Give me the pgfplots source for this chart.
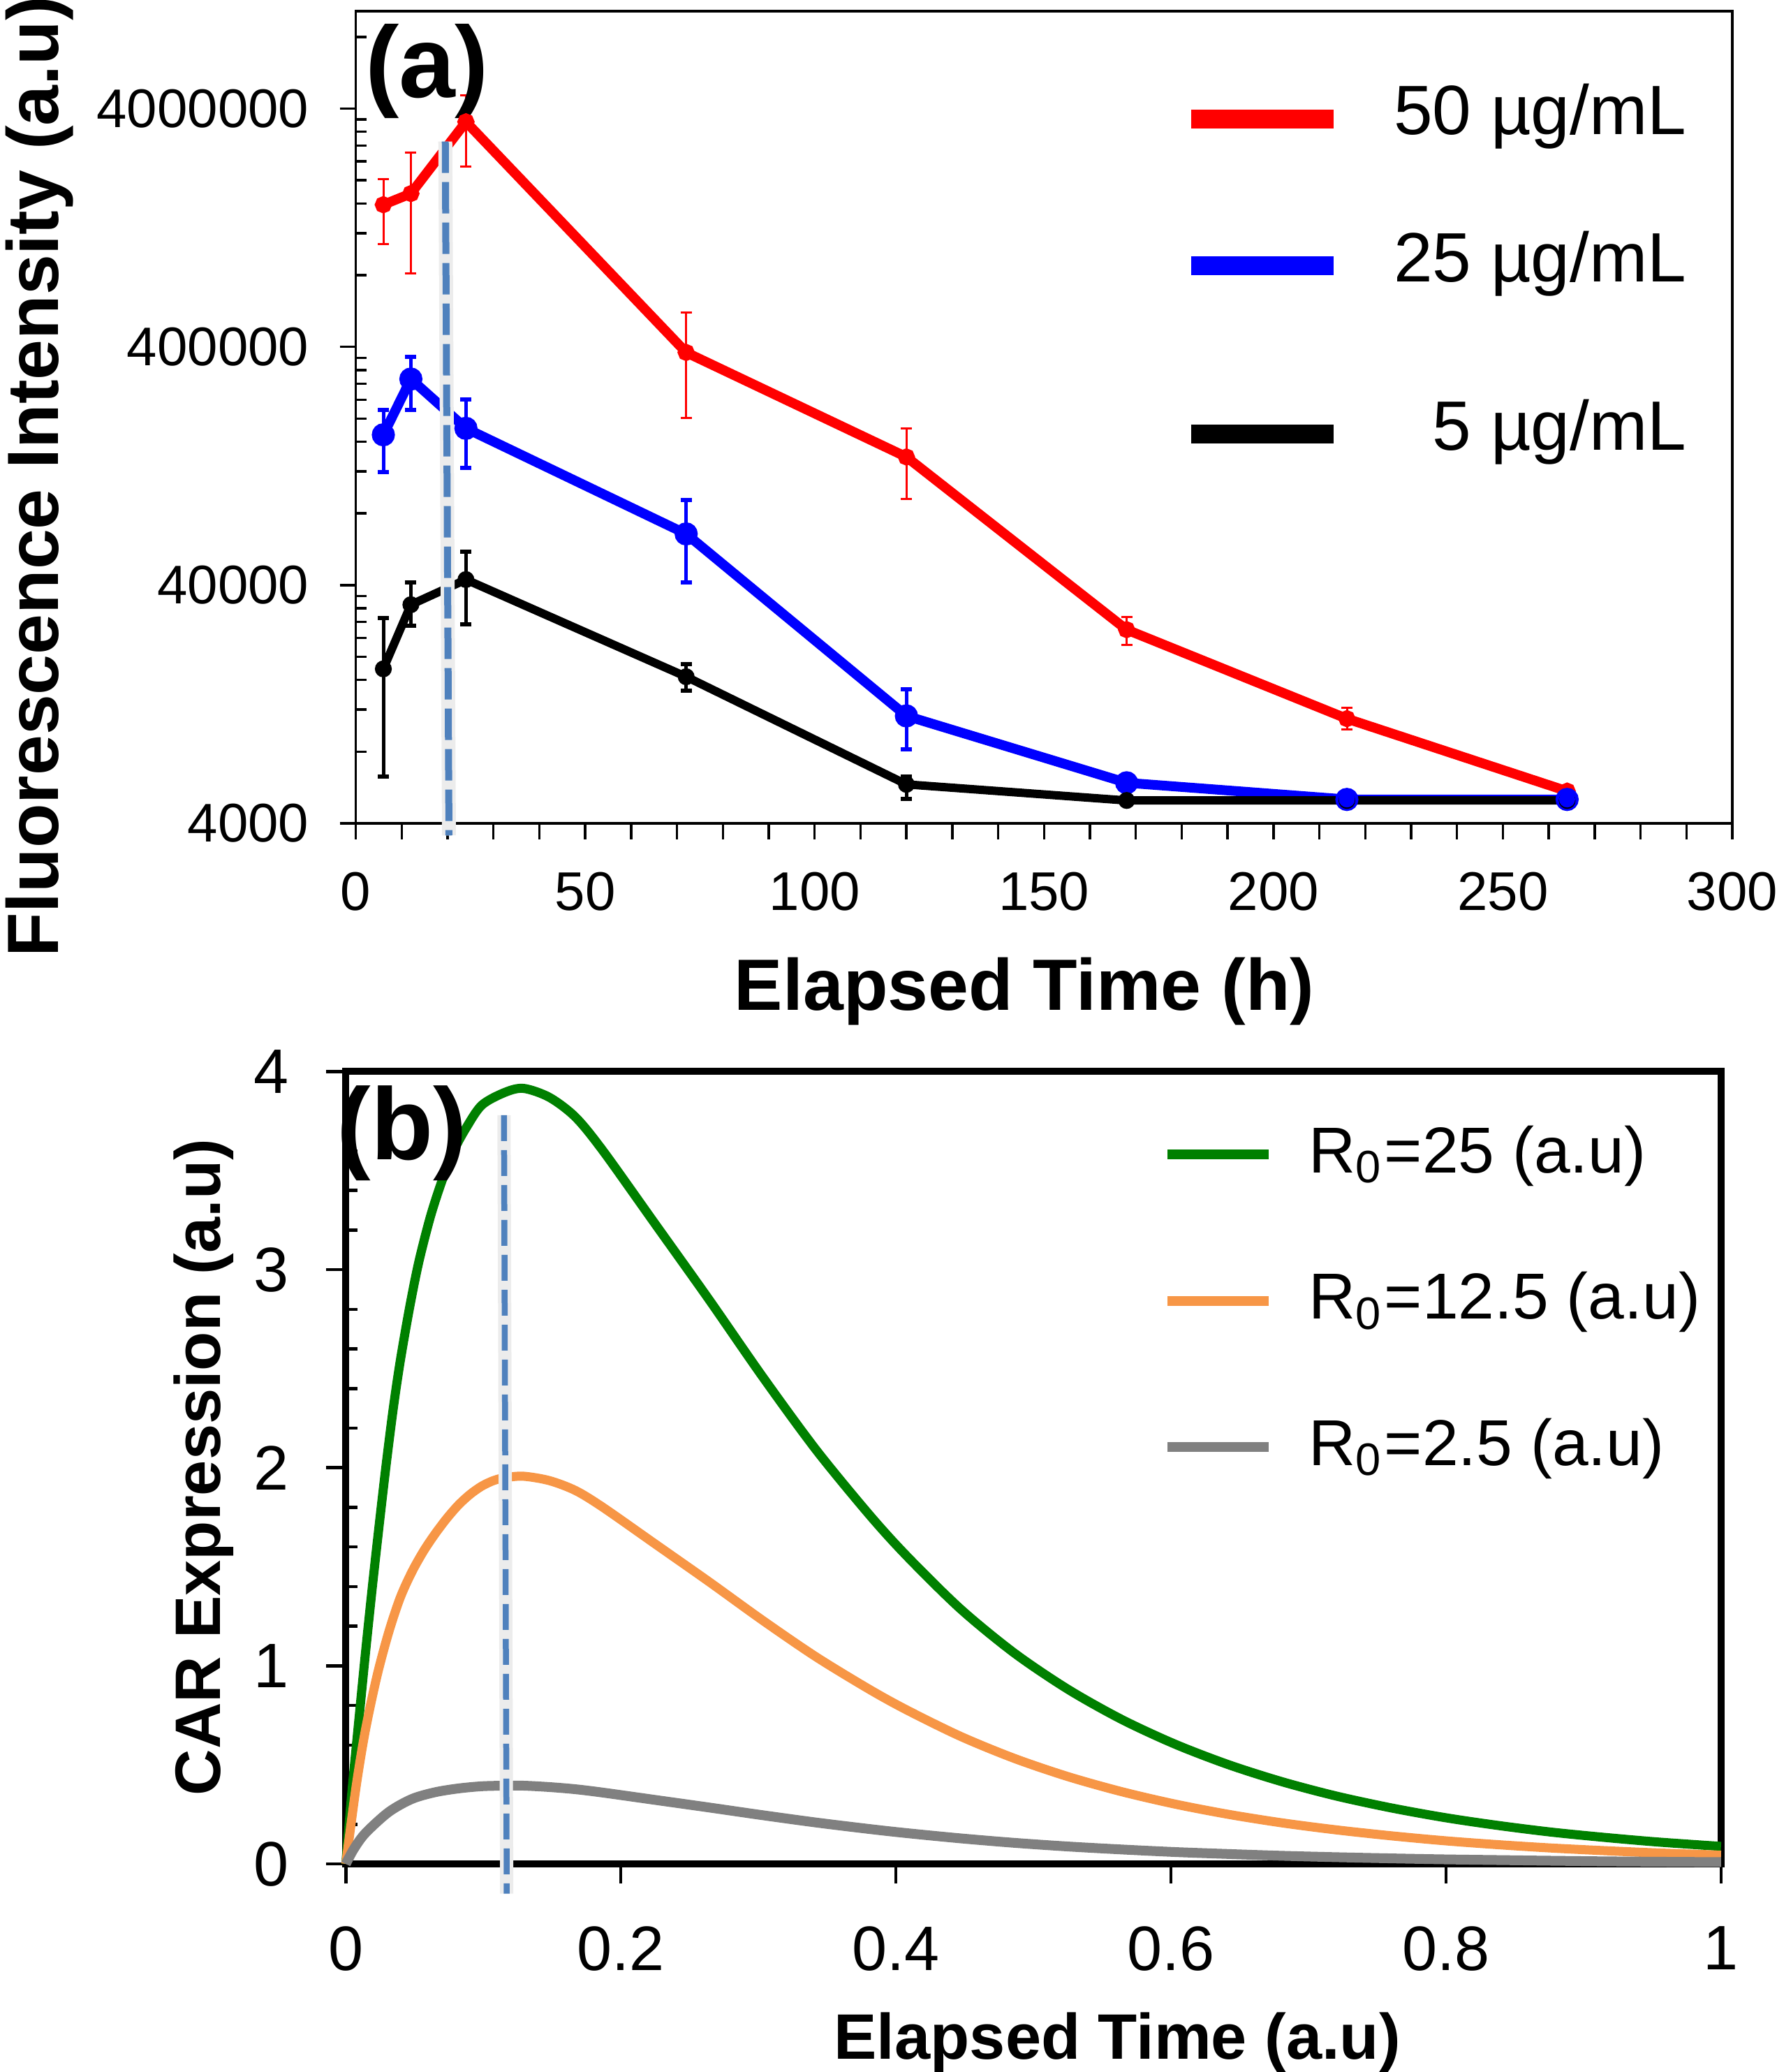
\documentclass[border=0pt]{standalone}
\usepackage{fontspec}
\setmainfont{Liberation Sans}
\usepackage{graphicx}
\usepackage{pgfplots}
\pgfplotsset{compat=1.18}
\definecolor{dashblue}{RGB}{79,129,189}
\definecolor{cgreen}{RGB}{0,128,0}
\definecolor{corange}{RGB}{247,150,70}
\definecolor{cgray}{RGB}{128,128,128}
\begin{document}
\begin{tikzpicture}
\useasboundingbox (0,0) rectangle (254.4pt,-296.7pt);
% ---------------- panel (a)
\begin{axis}[
  at={(50.96pt,-117.9pt)}, anchor=south west,
  scale only axis, width=197.14pt, height=116.3pt,
  xmin=0, xmax=300, ymode=log, ymin=4000, ymax=1.026e7,
  clip=false,
  axis line style={line width=0.35pt},
  tick pos=left, tick align=outside,
  major tick length=2.3pt, minor tick length=1.5pt,
  every tick/.style={black, line width=0.35pt},
  minor tick style={xshift=1.5pt},
  xtick={0,10,...,300},
  xticklabels={0,,,,,50,,,,,100,,,,,150,,,,,200,,,,,250,,,,,300},
  ytick={4000,40000,400000,4000000},
  yticklabels={4000,40000,400000,4000000},
  minor ytick={8000,12000,16000,20000,24000,28000,32000,36000,80000,120000,160000,200000,240000,280000,320000,360000,800000,1200000,1600000,2000000,2400000,2800000,3200000,3600000,8000000},
  tick label style={font=\fontsize{7.8}{9}\selectfont},
  xticklabel style={yshift=-1.2pt},
  yticklabel style={xshift=-0.9pt},
  xlabel={Elapsed Time (h)},
  ylabel={Fluorescence Intensity (a.u)},
  label style={font=\bfseries\fontsize{10.4}{12}\selectfont},
  xlabel style={at={(axis description cs:0.4857,-0.2296)}, anchor=base},
  ylabel style={at={(axis description cs:-0.2159,0.4265)}, anchor=base},
  legend cell align=right,
  legend style={draw=none, fill=none, at={(axis description cs:0.9676,0.9119)}, anchor=north east,
    inner sep=0pt, row sep=12.3pt, column sep=7.3pt, nodes={inner sep=0pt},
    font=\fontsize{10}{12}\selectfont},
]
\addlegendimage{legend image code/.code={\draw[red, line width=2.7pt] (0pt,-0.6pt) -- (20.4pt,-0.6pt);}}
\addlegendentry{50 µg/mL}
\addlegendimage{legend image code/.code={\draw[blue, line width=2.7pt] (0pt,-0.6pt) -- (20.4pt,-0.6pt); \path (0pt,-7.2pt);}}
\addlegendentry{25 µg/mL}
\addlegendimage{legend image code/.code={\draw[black, line width=2.7pt] (0pt,-0.6pt) -- (20.4pt,-0.6pt);}}
\addlegendentry{5 µg/mL}
% 50 ug/mL
\addplot[forget plot, red, line width=1.4pt, mark=*, mark size=0.5pt,
  error bars/.cd, y dir=both, y explicit,
  error bar style={line width=0.3pt, red},
  error mark options={rotate=90, mark size=0.8pt, line width=0.3pt, red}]
coordinates {
 (6,1.58e6) += (0,0.45e6) -= (0,0.50e6)
 (12,1.76e6) += (0,0.85e6) -= (0,0.947e6)
 (24,3.52e6) += (0,1.03e6) -= (0,1.23e6)
 (72,3.79e5) += (0,1.79e5) -= (0,1.78e5)
 (120,1.38e5) += (0,4.4e4) -= (0,4.6e4)
 (168,2.6e4) += (0,3.3e3) -= (0,3.6e3)
 (216,1.1e4) += (0,1.2e3) -= (0,1.1e3)
 (264,5460) += (0,0) -= (0,0)
};
% 25 ug/mL
\addplot[forget plot, blue, line width=1.4pt, mark=*, mark size=0.95pt,
  error bars/.cd, y dir=both, y explicit,
  error bar style={line width=0.5pt, blue},
  error mark options={rotate=90, mark size=0.8pt, line width=0.6pt, blue}]
coordinates {
 (6,1.71e5) += (0,4.7e4) -= (0,5.2e4)
 (12,2.93e5) += (0,7.0e4) -= (0,7.5e4)
 (24,1.82e5) += (0,5.9e4) -= (0,5.8e4)
 (72,6.56e4) += (0,2.54e4) -= (0,2.45e4)
 (120,1.13e4) += (0,3.3e3) -= (0,3.1e3)
 (168,5920) += (0,400) -= (0,400)
 (216,5040) += (0,0) -= (0,0)
 (264,5040) += (0,0) -= (0,0)
};
% 5 ug/mL
\addplot[forget plot, black, line width=1.2pt, mark=*, mark size=0.6pt,
  error bars/.cd, y dir=both, y explicit,
  error bar style={line width=0.5pt, black},
  error mark options={rotate=90, mark size=0.8pt, line width=0.6pt, black}]
coordinates {
 (6,1.78e4) += (0,1.12e4) -= (0,1.15e4)
 (12,3.31e4) += (0,8.0e3) -= (0,6.1e3)
 (24,4.22e4) += (0,1.3e4) -= (0,1.48e4)
 (72,1.65e4) += (0,2.1e3) -= (0,2.1e3)
 (120,5830) += (0,440) -= (0,750)
 (168,4990) += (0,0) -= (0,0)
 (216,4990) += (0,0) -= (0,0)
 (264,4990) += (0,0) -= (0,0)
};
\addplot[forget plot, only marks, blue, mark=*, mark size=0.95pt] coordinates {(216,5040) (264,5040)};
% dashed marker line
\addplot[forget plot, gray!15, line width=2.0pt] coordinates {(19.5,2.91e6) (20.3,3560)};
\addplot[forget plot, dashblue, line width=1.0pt, dash pattern=on 4.5pt off 1.3pt] coordinates {(19.5,2.91e6) (20.3,3560)};
\node[anchor=base west, inner sep=0pt, font=\bfseries\fontsize{14.5}{16}\selectfont] at (axis description cs:0.0058,0.8937) {(a)};
\end{axis}
% ---------------- panel (b)
\begin{axis}[
  at={(49.53pt,-266.9pt)}, anchor=south west,
  scale only axis, width=196.95pt, height=113.46pt,
  xmin=0, xmax=1, ymin=0, ymax=4,
  clip=false,
  axis line style={line width=1.0pt},
  tick pos=left, tick align=outside,
  major tick length=2.8pt, minor tick length=1.7pt,
  every tick/.style={black, line width=0.45pt},
  minor tick style={xshift=1.7pt},
  xtick={0,0.2,0.4,0.6,0.8,1},
  ytick={0,1,2,3,4},
  minor y tick num=4,
  /pgf/number format/assume math mode=true,
  tick label style={font=\fontsize{9}{11}\selectfont},
  xticklabel style={yshift=-2.6pt},
  yticklabel style={xshift=-1.8pt},
  xlabel={Elapsed Time (a.u)},
  ylabel={CAR Expression (a.u)},
  label style={font=\bfseries\fontsize{9.2}{11}\selectfont},
  xlabel style={at={(axis description cs:0.561,-0.2459)}, anchor=base},
  ylabel style={at={(axis description cs:-0.0915,0.5006)}, anchor=base},
  legend cell align=left,
  legend style={draw=none, fill=none, at={(axis description cs:0.5931,0.9334)}, anchor=north west,
    inner sep=0pt, row sep=12.7pt, column sep=5pt, nodes={inner sep=0pt},
    font=\fontsize{9.3}{11}\selectfont},
]
\addlegendimage{legend image code/.code={\draw[cgreen, line width=1.4pt] (0pt,0pt) -- (14.5pt,0pt);}}
\addlegendentry{R\textsubscript{0}=25 (a.u)}
\addlegendimage{legend image code/.code={\draw[corange, line width=1.4pt] (0pt,0pt) -- (14.5pt,0pt);}}
\addlegendentry{R\textsubscript{0}=12.5 (a.u)}
\addlegendimage{legend image code/.code={\draw[cgray, line width=1.4pt] (0pt,0pt) -- (14.5pt,0pt);}}
\addlegendentry{R\textsubscript{0}=2.5 (a.u)}
\addplot[forget plot, cgreen, line width=1.3pt, smooth] coordinates {
(0,0) (0.0041,0.34) (0.0091,0.70) (0.0142,1.06) (0.0193,1.40) (0.0244,1.72) (0.0294,2.02)
(0.0345,2.30) (0.0396,2.54) (0.0464,2.81) (0.0531,3.04) (0.0616,3.27) (0.0700,3.45)
(0.0785,3.60) (0.0870,3.71) (0.0988,3.83) (0.1157,3.895) (0.1293,3.915) (0.148,3.87)
(0.167,3.77) (0.187,3.60) (0.225,3.23) (0.264,2.85) (0.303,2.46) (0.342,2.09)
(0.381,1.76) (0.4085,1.55) (0.447,1.287) (0.486,1.065) (0.525,0.882) (0.564,0.730)
(0.603,0.6045) (0.642,0.5006) (0.681,0.4145) (0.720,0.343) (0.760,0.283) (0.799,0.234)
(0.837,0.195) (0.876,0.161) (0.915,0.134) (0.954,0.1106) (1.000,0.0885)};
\addplot[forget plot, corange, line width=1.3pt, smooth] coordinates {
(0,0) (0.0075,0.392) (0.0142,0.674) (0.0227,0.950) (0.0312,1.170) (0.0396,1.345)
(0.0481,1.475) (0.0566,1.580) (0.0650,1.667) (0.0735,1.745) (0.0819,1.812) (0.0904,1.866)
(0.0988,1.907) (0.1073,1.935) (0.1157,1.95) (0.1293,1.957) (0.148,1.935) (0.167,1.885)
(0.187,1.80) (0.225,1.615) (0.264,1.425) (0.303,1.23) (0.342,1.045) (0.381,0.88)
(0.4085,0.775) (0.447,0.644) (0.486,0.533) (0.525,0.441) (0.564,0.365) (0.603,0.302)
(0.642,0.25) (0.681,0.207) (0.720,0.172) (0.760,0.142) (0.799,0.117) (0.837,0.0975)
(0.876,0.0805) (0.915,0.067) (0.954,0.0553) (1.000,0.0443)};
\addplot[forget plot, cgray, line width=1.4pt, smooth] coordinates {
(0,0) (0.0058,0.075) (0.0142,0.155) (0.0312,0.262) (0.0481,0.328) (0.0650,0.362)
(0.0819,0.381) (0.0988,0.392) (0.1157,0.395) (0.1293,0.395) (0.148,0.388) (0.167,0.377)
(0.187,0.360) (0.225,0.323) (0.264,0.285) (0.303,0.246) (0.342,0.209) (0.381,0.176)
(0.4085,0.155) (0.447,0.129) (0.486,0.1065) (0.525,0.088) (0.564,0.073) (0.603,0.060)
(0.642,0.050) (0.681,0.041) (0.720,0.034) (0.760,0.028) (0.799,0.023) (0.837,0.0195)
(0.876,0.016) (0.915,0.013) (0.954,0.011) (1.000,0.009)};
\addplot[forget plot, gray!15, line width=1.9pt] coordinates {(0.115,3.78) (0.117,-0.15)};
\addplot[forget plot, dashblue, line width=0.85pt, dash pattern=on 3.7pt off 1.3pt] coordinates {(0.115,3.78) (0.117,-0.15)};
\node[anchor=base west, inner sep=0pt, font=\bfseries\fontsize{14.6}{16}\selectfont] at (axis description cs:-0.0073,0.8893) {(b)};
\end{axis}
\end{tikzpicture}
\end{document}
